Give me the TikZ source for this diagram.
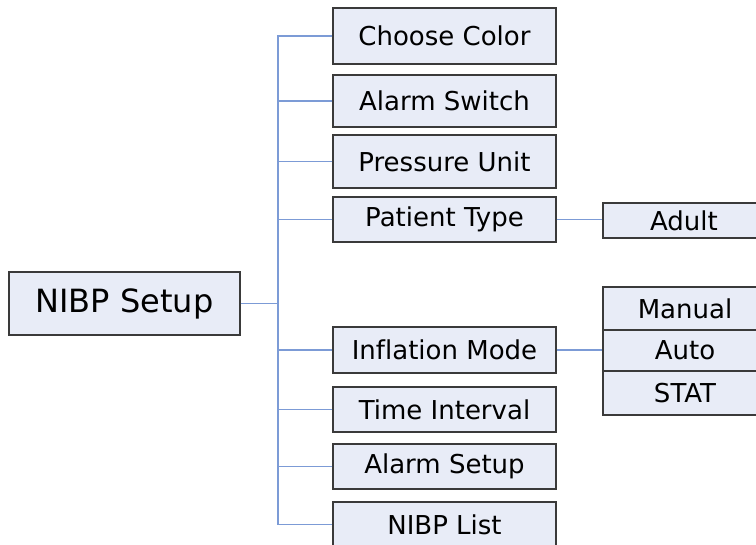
\documentclass[tikz,border=0pt]{standalone}
\usepackage{fontspec}
\setmainfont[Ligatures=CommonOff]{DejaVu Sans}
\definecolor{boxfill}{HTML}{E8ECF7}
\definecolor{boxline}{HTML}{3A3A3A}
\definecolor{linkblue}{HTML}{7C9BD6}
\begin{document}
\begin{tikzpicture}[x=1pt,y=-1pt,
  box/.style={draw=boxline, fill=boxfill, line width=1.2pt, inner sep=0pt,
    font=\fontsize{26}{31}\selectfont},
  sub/.style={box, minimum width=223pt, minimum height=45pt},
  link/.style={draw=linkblue, line width=1.4pt}]
\useasboundingbox (0,0) rectangle (756,545);
% nodes
\node[box, minimum width=231pt, minimum height=63pt, font=\fontsize{32}{38}\selectfont] (setup) at (124.5,303.5) {NIBP Setup};
\node[sub, minimum height=56pt] (cc) at (444.5,36) {Choose Color};
\node[sub, minimum height=52pt] (as) at (444.5,101) {Alarm Switch};
\node[sub, minimum height=53pt] (pu) at (444.5,161.5) {Pressure Unit};
\node[sub] (pt) at (444.5,219.5) {Patient Type};
\node[sub, minimum height=46pt] (im) at (444.5,350) {Inflation Mode};
\node[sub] (ti) at (444.5,409.5) {Time Interval};
\node[sub] (als) at (444.5,466.5) {Alarm Setup};
\node[sub] (nl) at (444.5,524.5) {NIBP List};
\node[box, minimum width=162pt, minimum height=35pt] (adult) at (684,220.5) {Adult};
\node[box, minimum width=164pt, minimum height=43pt] (manual) at (685,308.5) {Manual};
\node[box, minimum width=164pt, minimum height=41pt] (auto) at (685,350.5) {Auto};
\node[box, minimum width=164pt, minimum height=44pt] (stat) at (685,393) {STAT};
% trunk
\coordinate (trunk) at (278,36);
\draw[link] (cc.west) -- (cc.west -| trunk) -- (nl.west -| trunk) -- (nl.west);
\foreach \n in {as,pu,pt,im,ti,als}
  \draw[link] (\n.west) -- (\n.west -| trunk);
\draw[link] (setup.east) -- (setup.east -| trunk);
\draw[link] (pt.east) -- (pt.east -| adult.west);
\draw[link] (im.east) -- (im.east -| auto.west);
\end{tikzpicture}
\end{document}
